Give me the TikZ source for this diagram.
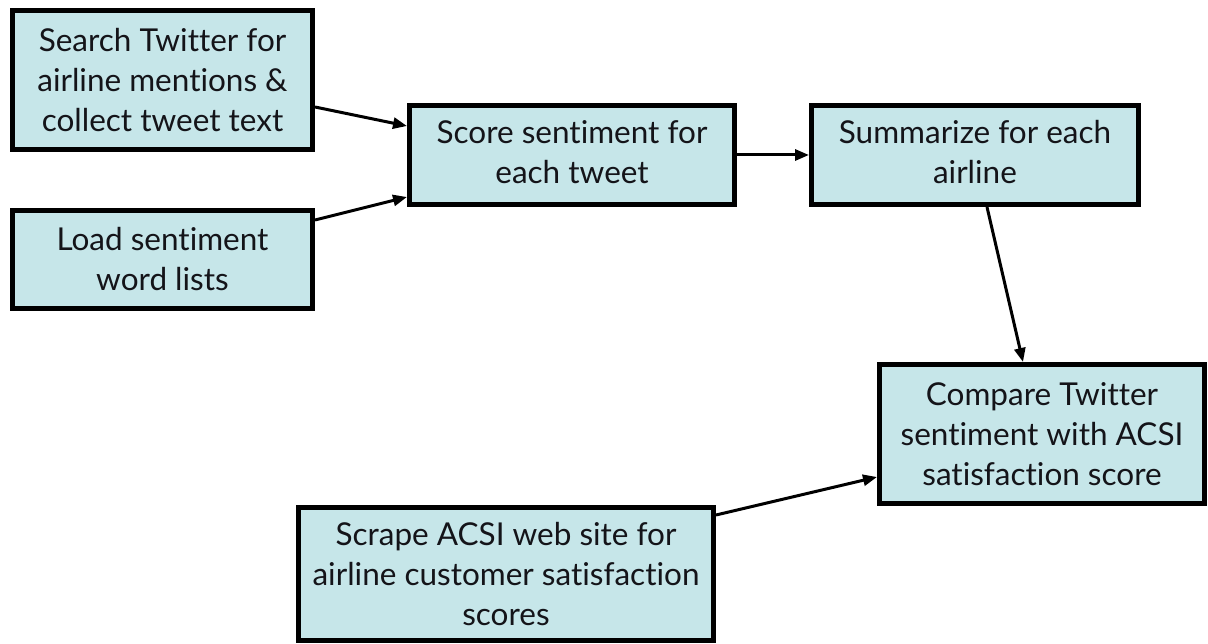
\documentclass[tikz,border=0pt]{standalone}
\usepackage{fontspec}
\setmainfont{Lato}[Ligatures=NoCommon]
\usetikzlibrary{arrows.meta}
\definecolor{boxfill}{RGB}{198,230,233}
\definecolor{txt}{RGB}{20,20,25}
\tikzset{
  box/.style={draw=black, line width=5pt, fill=boxfill, align=center, text=txt,
    font=\fontsize{31.5}{40}\selectfont, inner sep=2pt},
  conn/.style={line width=3pt, -{Triangle[length=14pt,width=11pt]}}
}
\begin{document}
\begin{tikzpicture}[x=1pt,y=1pt]
\useasboundingbox (0,0) rectangle (1208,-644);
\node[box, minimum width=300pt, minimum height=139pt] (b1) at (162.5,-80) {Search Twitter for\\airline mentions \&\\collect tweet text};
\node[box, minimum width=300pt, minimum height=98pt] (b2) at (162.5,-259.5) {Load sentiment\\word lists};
\node[box, minimum width=325pt, minimum height=99pt] (b3) at (572,-155) {Score sentiment for\\each tweet\vphantom{g}};
\node[box, minimum width=327pt, minimum height=99pt] (b4) at (975,-155) {Summarize for each\\airline\vphantom{g}};
\node[box, minimum width=325pt, minimum height=139pt] (b5) at (1042,-434) {Compare Twitter\\sentiment with ACSI\\satisfaction score};
\node[box, minimum width=415pt, minimum height=133pt] (b6) at (506,-574) {Scrape ACSI web site for\\airline customer satisfaction\\scores};
\draw[conn] ([yshift=-27pt]b1.east) -- ([yshift=29pt]b3.west);
\draw[conn] ([yshift=39.5pt]b2.east) -- ([yshift=-42pt]b3.west);
\draw[conn] (b3.east) -- (b4.west);
\draw[conn] ([xshift=12pt]b4.south) -- ([xshift=-19pt]b5.north);
\draw[conn] ([yshift=59pt]b6.east) -- ([yshift=-43pt]b5.west);
\end{tikzpicture}
\end{document}
